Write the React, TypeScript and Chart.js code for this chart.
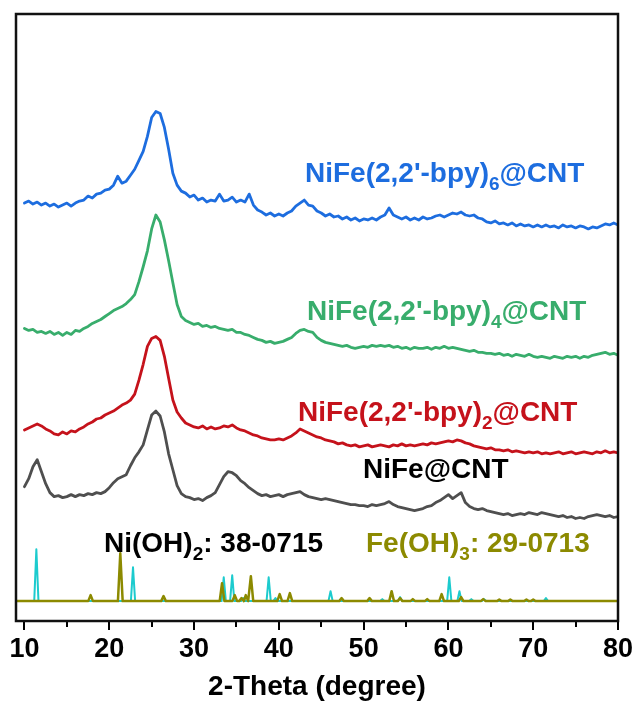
import React, { useEffect, useRef } from "react";
import { Chart, registerables } from "chart.js";

Chart.register(...registerables);

// 2-Theta grid (degree), 0.5° steps from 10 to 80
const twoTheta: number[] = Array.from({ length: 141 }, (_, i) => 10 + i * 0.5);

// Intensities (a.u., stacked with offsets as in the figure)
const bpy6: number[] = [
  420, 422, 419, 421, 418, 420, 417, 419, 416, 418,
  420, 417, 420, 422, 423, 427, 425, 429, 430, 433,
  434, 438, 447, 440, 442, 448, 454, 463, 472, 487,
  506, 512, 510, 496, 474, 450, 438, 432, 430, 426,
  428, 423, 425, 421, 423, 422, 429, 422, 423, 426,
  421, 423, 421, 429, 418, 413, 411, 408, 410, 407,
  409, 407, 410, 412, 417, 420, 423, 418, 417, 412,
  410, 407, 409, 406, 407, 404, 406, 403, 405, 402,
  404, 403, 405, 403, 406, 408, 415, 408, 406, 404,
  406, 403, 405, 403, 406, 404, 405, 407, 408, 406,
  408, 410, 409, 411, 408, 407, 408, 405, 404, 401,
  400, 402, 399, 400, 398, 400, 397, 399, 397, 398,
  396, 398, 396, 398, 396, 397, 395, 398, 396, 397,
  395, 397, 396, 394, 396, 395, 397, 399, 398, 400,
  398,
];

const bpy4: number[] = [
  294, 292, 293, 290, 291, 289, 291, 288, 290, 287,
  290, 288, 292, 291, 294, 296, 299, 301, 303, 306,
  309, 312, 314, 316, 319, 323, 328, 341, 356, 372,
  394, 408, 401, 383, 362, 340, 318, 306, 302, 300,
  298, 299, 296, 297, 295, 296, 294, 293, 292, 293,
  290, 290, 288, 287, 285, 283, 282, 280, 281, 279,
  280, 281, 283, 285, 289, 292, 293, 291, 290, 285,
  282, 280, 279, 278, 277, 276, 277, 275, 274, 275,
  276, 275, 277, 276, 277, 276, 277, 275, 276, 274,
  275, 273, 275, 274, 274, 275, 273, 275, 274, 276,
  274, 275, 274, 273, 272, 271, 272, 270, 270, 269,
  269, 268, 269, 267, 268, 266, 268, 267, 266, 268,
  266, 265, 266, 265, 264, 266, 265, 264, 266, 265,
  266, 264, 266, 265, 267, 268, 269, 270, 268, 269,
  267,
];

const bpy2: number[] = [
  192, 194, 196, 198, 196, 193, 191, 188, 187, 190,
  188, 191, 190, 193, 195, 198, 200, 203, 204, 207,
  209, 211, 214, 217, 219, 222, 228, 242, 258, 276,
  284, 286, 282, 266, 244, 222, 210, 204, 199, 197,
  195, 194, 196, 193, 195, 193, 194, 196, 195, 197,
  194, 192, 191, 189, 187, 186, 184, 183, 182, 182,
  183, 182, 184, 186, 189, 193, 191, 189, 187, 185,
  184, 182, 181, 180, 178, 179, 177, 176, 177, 175,
  176, 177, 175, 176, 177, 176, 175, 177, 176, 178,
  176, 177, 176, 177, 178, 177, 179, 178, 179, 180,
  181, 180, 182, 181, 179, 178, 176, 175, 174, 173,
  174, 172, 172, 171, 172, 170, 171, 170, 169, 170,
  169, 170, 168, 169, 168, 169, 170, 168, 169, 170,
  168, 169, 170, 169, 168, 170, 169, 171, 169, 170,
  169,
];

const nife: number[] = [
  135, 143, 155, 162, 150, 138, 129, 125, 126, 124,
  125, 127, 125, 127, 126, 128, 127, 129, 128, 130,
  134, 139, 143, 145, 147, 156, 164, 170, 177, 192,
  207, 211, 206, 190, 168, 152, 136, 128, 125, 124,
  122, 123, 121, 124, 126, 129, 137, 145, 150, 149,
  146, 141, 138, 134, 131, 128, 126, 127, 125, 126,
  127, 125, 127, 128, 129, 130, 127, 125, 124, 123,
  122, 123, 122, 121, 120, 119, 118, 117, 117, 116,
  116, 115, 117, 116, 117, 118, 120, 117, 115, 114,
  113, 112, 111, 112, 113, 115, 116, 119, 121, 124,
  127, 123, 126, 129, 119, 115, 113, 112, 113, 111,
  110, 109, 108, 107, 108, 106, 107, 108, 107, 109,
  108, 107, 109, 108, 107, 106, 105, 106, 104, 105,
  103, 104, 103, 105, 106, 107, 106, 105, 106, 104,
  105,
];

// Standard reference patterns (position in 2-Theta, relative intensity)
const refBaseline = 20;
const niOH2Pos: number[] = [11.4, 22.8, 33.5, 34.5, 35.8, 38.8, 39.6, 46.1, 52.2, 54.3, 60.1, 61.3, 62.7, 64.2, 71.5];
const niOH2Int: number[] = [52, 34, 24, 26, 3, 24, 3, 10, 2, 4, 24, 10, 2, 2, 3];
const feOH3Pos: number[] = [17.8, 21.3, 26.4, 33.3, 34.8, 35.6, 36.1, 36.7, 40.1, 41.3, 47.4, 50.7, 53.3, 54.3, 55.8, 57.5, 59.2, 61.5, 64.1, 66.0, 67.3, 69.2, 70.0];
const feOH3Int: number[] = [6, 48, 5, 18, 6, 3, 6, 25, 7, 8, 3, 3, 10, 3, 2, 2, 7, 4, 2, 1.5, 1.5, 1.5, 1.5];

const xMin = 9;
const xMax = 80;
const majorTicks: number[] = [10, 20, 30, 40, 50, 60, 70, 80];
const minorTicks: number[] = [15, 25, 35, 45, 55, 65, 75];

const FONT = '"Liberation Sans", Arial, Helvetica, sans-serif';
const C_BLUE = "#1d6ddf";
const C_GREEN = "#38ad6c";
const C_RED = "#c5121b";
const C_GREY = "#4f4f4f";
const C_CYAN = "#1ccbce";
const C_OLIVE = "#8c8a00";

type Part = [string, boolean];
const labelSpecs: { parts: Part[]; color: string; x: number; y: number }[] = [
  { parts: [["NiFe(2,2'-bpy)", false], ["6", true], ["@CNT", false]], color: C_BLUE, x: 43.08, y: 441 },
  { parts: [["NiFe(2,2'-bpy)", false], ["4", true], ["@CNT", false]], color: C_GREEN, x: 43.32, y: 302 },
  { parts: [["NiFe(2,2'-bpy)", false], ["2", true], ["@CNT", false]], color: C_RED, x: 42.26, y: 201 },
  { parts: [["NiFe@CNT", false]], color: "#000000", x: 49.92, y: 144 },
  { parts: [["Ni(OH)", false], ["2", true], [": 38-0715", false]], color: "#000000", x: 19.38, y: 69 },
  { parts: [["Fe(OH)", false], ["3", true], [": 29-0713", false]], color: C_OLIVE, x: 50.28, y: 69 },
];

function sticks(pos: number[], inten: number[], hw: number) {
  const idx = pos.map((_, i) => i).sort((a, b) => pos[a] - pos[b]);
  const pts: { x: number; y: number }[] = [{ x: xMin, y: refBaseline }];
  idx.forEach((i) => {
    pts.push({ x: pos[i] - hw, y: refBaseline });
    pts.push({ x: pos[i], y: refBaseline + inten[i] });
    pts.push({ x: pos[i] + hw, y: refBaseline });
  });
  pts.push({ x: xMax, y: refBaseline });
  return pts;
}

const series = (vals: number[]) => twoTheta.map((x, i) => ({ x, y: vals[i] }));

const decorPlugin = {
  id: "decor",
  afterDatasetsDraw(chart: any) {
    const { ctx, chartArea, scales } = chart;
    const xs = scales.x;
    const ys = scales.y;
    ctx.save();
    // minor ticks
    ctx.strokeStyle = "#000";
    ctx.lineWidth = 2;
    minorTicks.forEach((v) => {
      const px = Math.round(xs.getPixelForValue(v));
      ctx.beginPath();
      ctx.moveTo(px, chartArea.bottom);
      ctx.lineTo(px, chartArea.bottom + 6);
      ctx.stroke();
    });
    // frame
    ctx.lineWidth = 2.5;
    ctx.strokeStyle = "#111";
    ctx.strokeRect(chartArea.left, chartArea.top, chartArea.right - chartArea.left, chartArea.bottom - chartArea.top);
    // labels
    ctx.textBaseline = "alphabetic";
    ctx.textAlign = "left";
    labelSpecs.forEach((spec) => {
      let px = xs.getPixelForValue(spec.x);
      const py = ys.getPixelForValue(spec.y);
      ctx.fillStyle = spec.color;
      spec.parts.forEach(([txt, sub]) => {
        ctx.font = sub ? `bold 19px ${FONT}` : `bold 28px ${FONT}`;
        ctx.fillText(txt, px, sub ? py + 8 : py);
        px += ctx.measureText(txt).width;
      });
    });
    ctx.restore();
  },
};

export default function App() {
  const ref = useRef<HTMLCanvasElement | null>(null);
  useEffect(() => {
    document.body.style.margin = "0";
    const canvas = ref.current;
    if (!canvas) return;
    const chart = new Chart(canvas, {
      type: "line",
      data: {
        datasets: [
          { label: "Fe(OH)3", data: sticks(feOH3Pos, feOH3Int, 0.28), borderColor: C_OLIVE, borderWidth: 2.5 },
          { label: "Ni(OH)2", data: sticks(niOH2Pos, niOH2Int, 0.25), borderColor: C_CYAN, borderWidth: 2 },
          { label: "NiFe(2,2'-bpy)6@CNT", data: series(bpy6), borderColor: C_BLUE, borderWidth: 2.8 },
          { label: "NiFe(2,2'-bpy)4@CNT", data: series(bpy4), borderColor: C_GREEN, borderWidth: 2.8 },
          { label: "NiFe(2,2'-bpy)2@CNT", data: series(bpy2), borderColor: C_RED, borderWidth: 2.8 },
          { label: "NiFe@CNT", data: series(nife), borderColor: C_GREY, borderWidth: 2.8 },
        ],
      },
      options: {
        animation: false,
        responsive: false,
        parsing: false as any,
        normalized: true,
        elements: {
          point: { radius: 0 },
          line: { tension: 0, borderJoinStyle: "round", borderCapStyle: "round", fill: false },
        },
        layout: { padding: { left: 16, right: 20, top: 14, bottom: 0 } },
        plugins: { legend: { display: false }, tooltip: { enabled: false }, title: { display: false } },
        scales: {
          x: {
            type: "linear",
            min: xMin,
            max: xMax,
            afterBuildTicks: (scale: any) => {
              scale.ticks = majorTicks.map((v) => ({ value: v }));
            },
            grid: {
              display: true,
              drawOnChartArea: false,
              drawTicks: true,
              tickLength: 9,
              color: "#000",
              lineWidth: 2,
            },
            border: { display: false },
            ticks: {
              padding: 3,
              color: "#000",
              maxRotation: 0,
              autoSkip: false,
              font: { family: FONT, size: 27, weight: "bold" },
              callback: (v: any) => String(v),
            },
            title: {
              display: true,
              text: "2-Theta (degree)",
              color: "#000",
              font: { family: FONT, size: 28, weight: "bold" },
              padding: { top: 2, bottom: 2 },
            },
          },
          y: { type: "linear", display: false, min: 0, max: 610 },
        },
      },
      plugins: [decorPlugin],
    } as any);
    return () => chart.destroy();
  }, []);
  return <canvas ref={ref} width={638} height={706} style={{ display: "block" }} />;
}
